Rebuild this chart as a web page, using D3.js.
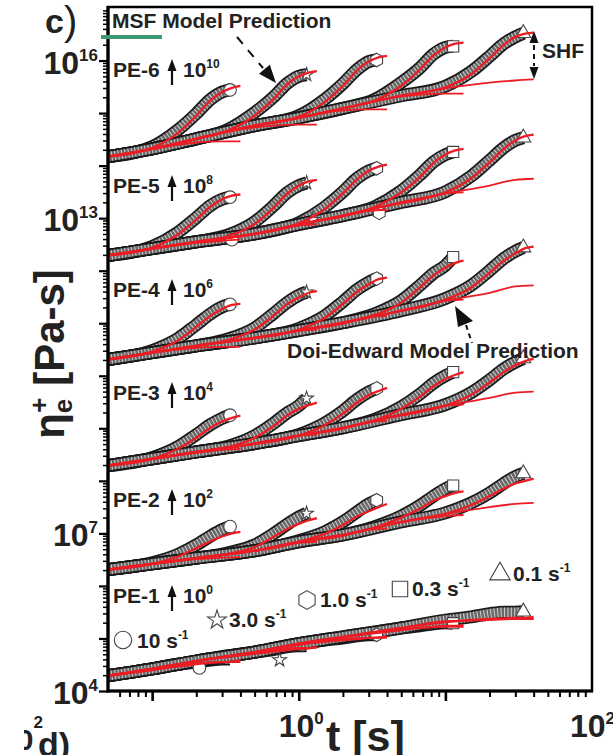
<!DOCTYPE html>
<html>
<head>
<meta charset="utf-8">
<script src="https://cdn.jsdelivr.net/npm/d3@7"></script>
<style>
  html, body { margin: 0; padding: 0; background: #fff; }
  svg { display: block; font-family: "Liberation Sans", Arial, sans-serif; }
</style>
</head>
<body>
<svg id="chart" width="613" height="755"></svg>
<script>
// ---------------------------------------------------------------
// Transient elongational viscosity, six PE melts (shifted vertically)
// Values are log10(eta / Pa s) before the vertical shift.
// ---------------------------------------------------------------
const groupNames = ["PE-1", "PE-2", "PE-3", "PE-4", "PE-5", "PE-6"];
const shiftExp = [0, 2, 4, 6, 8, 10];

const rateLabels = ["10", "3.0", "1.0", "0.3", "0.1"];
const rateSymbols = ["circle", "star", "hexagon", "square", "triangle"];

// linear viscoelastic start-up envelope, sampled at these times [s]
const lveTimes = [0.05, 0.1, 0.2, 0.5, 1, 2, 5, 10, 20, 40];

// times [s] of the points on the strain-hardening branches, per rate
const expTimes = [
  [0.1, 0.15, 0.2, 0.25, 0.3, 0.34],
  [0.33, 0.5, 0.67, 0.83, 1.0, 1.13],
  [1, 1.5, 2, 2.5, 3, 3.4],
  [3.3, 5, 6.7, 8.3, 10, 11.3],
  [10, 15, 20, 25, 30, 34]
];
const msfTimes = [
  [0.1, 0.15, 0.2, 0.25, 0.3, 0.35, 0.4],
  [0.33, 0.5, 0.67, 0.83, 1.0, 1.17, 1.33],
  [1, 1.5, 2, 2.5, 3, 3.5, 4],
  [3.3, 5, 6.7, 8.3, 10, 11.7, 13.3],
  [10, 15, 20, 25, 30, 35, 40]
];
const deTimes = [
  [0.1, 0.2, 0.3, 0.4],
  [0.33, 0.67, 1.0, 1.33],
  [1, 2, 3, 4],
  [3.3, 6.7, 10, 13.3],
  [10, 20, 30, 40]
];

// ---- PE-1 ----
const pe1Lve = [4.29, 4.42, 4.57, 4.74, 4.90, 5.03, 5.20, 5.33, 5.43, 5.52];
const pe1Exp = [
  [4.42, 4.51, 4.55, 4.59, 4.61, 4.61],
  [4.67, 4.74, 4.79, 4.84, 4.86, 4.86],
  [4.90, 4.97, 5.01, 5.05, 5.07, 5.07],
  [5.12, 5.20, 5.24, 5.28, 5.30, 5.29],
  [5.35, 5.41, 5.47, 5.50, 5.50, 5.51]
];
const pe1Msf = [
  [4.40, 4.47, 4.51, 4.54, 4.55, 4.56, 4.59],
  [4.65, 4.71, 4.75, 4.78, 4.80, 4.81, 4.84],
  [4.88, 4.94, 4.97, 4.99, 5.01, 5.02, 5.04],
  [5.10, 5.16, 5.20, 5.22, 5.24, 5.24, 5.26],
  [5.31, 5.35, 5.37, 5.38, 5.39, 5.39, 5.41]
];
const pe1De = [
  [4.42, 4.53, 4.55, 4.55],
  [4.67, 4.78, 4.82, 4.82],
  [4.90, 4.99, 5.01, 5.01],
  [5.12, 5.20, 5.22, 5.22],
  [5.33, 5.35, 5.37, 5.37]
];

// ---- PE-2 ----
const pe2Lve = [4.31, 4.42, 4.53, 4.67, 4.84, 4.97, 5.22, 5.37, 5.52, 5.66];
const pe2Exp = [
  [4.44, 4.60, 4.78, 4.95, 5.07, 5.13],
  [4.63, 4.78, 4.99, 5.17, 5.31, 5.38],
  [4.86, 5.03, 5.22, 5.41, 5.56, 5.63],
  [5.13, 5.33, 5.53, 5.71, 5.85, 5.91],
  [5.39, 5.58, 5.77, 5.95, 6.08, 6.14]
];
const pe2Msf = [
  [4.42, 4.56, 4.72, 4.85, 4.94, 5.00, 5.03],
  [4.61, 4.74, 4.93, 5.08, 5.18, 5.25, 5.29],
  [4.84, 4.99, 5.16, 5.32, 5.42, 5.50, 5.56],
  [5.11, 5.30, 5.47, 5.62, 5.71, 5.77, 5.80],
  [5.37, 5.54, 5.71, 5.85, 5.95, 6.00, 6.04]
];
const pe2De = [
  [4.42, 4.51, 4.54, 4.55],
  [4.61, 4.72, 4.82, 4.84],
  [4.84, 4.95, 5.07, 5.09],
  [5.11, 5.27, 5.33, 5.35],
  [5.37, 5.50, 5.56, 5.58]
];

// ---- PE-3 ----
const pe3Lve = [4.29, 4.42, 4.55, 4.71, 4.86, 5.01, 5.26, 5.43, 5.60, 5.75];
const pe3Exp = [
  [4.44, 4.65, 4.88, 5.07, 5.19, 5.25],
  [4.66, 4.86, 5.09, 5.29, 5.43, 5.57],
  [4.88, 5.10, 5.33, 5.55, 5.69, 5.76],
  [5.17, 5.41, 5.65, 5.86, 6.00, 6.07],
  [5.45, 5.68, 5.92, 6.13, 6.26, 6.33]
];
const pe3Msf = [
  [4.42, 4.61, 4.82, 5.01, 5.13, 5.20, 5.24],
  [4.64, 4.82, 5.04, 5.24, 5.37, 5.44, 5.49],
  [4.86, 5.06, 5.28, 5.49, 5.63, 5.71, 5.77],
  [5.15, 5.37, 5.60, 5.80, 5.94, 6.02, 6.07],
  [5.43, 5.64, 5.87, 6.07, 6.20, 6.28, 6.32]
];
const pe3De = [
  [4.42, 4.53, 4.59, 4.61],
  [4.64, 4.75, 4.86, 4.88],
  [4.86, 4.99, 5.12, 5.14],
  [5.15, 5.31, 5.43, 5.45],
  [5.43, 5.58, 5.68, 5.70]
];

// ---- PE-4 ----
const pe4Lve = [4.31, 4.44, 4.57, 4.72, 4.86, 5.01, 5.24, 5.43, 5.60, 5.77];
const pe4Exp = [
  [4.48, 4.71, 4.97, 5.18, 5.31, 5.36],
  [4.70, 4.91, 5.18, 5.39, 5.53, 5.59],
  [4.90, 5.14, 5.41, 5.64, 5.78, 5.85],
  [5.18, 5.43, 5.72, 5.95, 6.10, 6.26],
  [5.47, 5.72, 6.00, 6.23, 6.37, 6.44]
];
const pe4Msf = [
  [4.46, 4.67, 4.93, 5.14, 5.27, 5.35, 5.37],
  [4.68, 4.88, 5.14, 5.36, 5.49, 5.58, 5.61],
  [4.88, 5.10, 5.37, 5.60, 5.74, 5.84, 5.87],
  [5.16, 5.39, 5.68, 5.91, 6.06, 6.15, 6.19],
  [5.45, 5.68, 5.96, 6.19, 6.33, 6.43, 6.46]
];
const pe4De = [
  [4.44, 4.53, 4.55, 4.55],
  [4.66, 4.76, 4.86, 4.88],
  [4.86, 4.99, 5.12, 5.14],
  [5.14, 5.30, 5.43, 5.45],
  [5.43, 5.58, 5.70, 5.72]
];

// ---- PE-5 ----
const pe5Lve = [4.29, 4.42, 4.55, 4.70, 4.88, 5.05, 5.30, 5.47, 5.64, 5.81];
const pe5Exp = [
  [4.46, 4.73, 5.01, 5.24, 5.36, 5.40],
  [4.68, 4.93, 5.23, 5.48, 5.62, 5.67],
  [4.91, 5.21, 5.50, 5.76, 5.90, 5.95],
  [5.22, 5.52, 5.82, 6.07, 6.21, 6.26],
  [5.50, 5.80, 6.10, 6.34, 6.48, 6.53]
];
const pe5Msf = [
  [4.44, 4.69, 4.97, 5.22, 5.36, 5.43, 5.45],
  [4.66, 4.89, 5.19, 5.46, 5.62, 5.70, 5.73],
  [4.90, 5.17, 5.47, 5.74, 5.90, 5.98, 6.02],
  [5.21, 5.49, 5.78, 6.05, 6.21, 6.29, 6.32],
  [5.49, 5.76, 6.06, 6.32, 6.48, 6.56, 6.59]
];
const pe5De = [
  [4.42, 4.53, 4.57, 4.59],
  [4.64, 4.76, 4.86, 4.88],
  [4.88, 5.03, 5.14, 5.16],
  [5.19, 5.35, 5.47, 5.49],
  [5.47, 5.62, 5.73, 5.75]
];

// ---- PE-6 ----
const pe6Lve = [4.17, 4.32, 4.51, 4.76, 4.91, 5.09, 5.33, 5.47, 5.60, 5.71];
const pe6Exp = [
  [4.36, 4.68, 4.99, 5.26, 5.40, 5.44],
  [4.69, 5.01, 5.30, 5.56, 5.70, 5.73],
  [4.95, 5.26, 5.56, 5.83, 5.98, 6.01],
  [5.26, 5.58, 5.86, 6.12, 6.25, 6.27],
  [5.51, 5.79, 6.08, 6.32, 6.45, 6.52]
];
const pe6Msf = [
  [4.34, 4.62, 4.95, 5.24, 5.40, 5.48, 5.52],
  [4.67, 4.95, 5.26, 5.54, 5.70, 5.77, 5.80],
  [4.93, 5.21, 5.52, 5.81, 5.98, 6.06, 6.09],
  [5.24, 5.52, 5.83, 6.10, 6.25, 6.32, 6.34],
  [5.49, 5.74, 6.04, 6.30, 6.45, 6.51, 6.53]
];
const pe6De = [
  [4.32, 4.44, 4.46, 4.46],
  [4.65, 4.76, 4.78, 4.78],
  [4.91, 5.05, 5.07, 5.07],
  [5.23, 5.35, 5.37, 5.37],
  [5.47, 5.58, 5.62, 5.64]
];

// separate last points of runs: [group index, rate index, t (s), log10 eta]
const isolatedPts = [
  [0, 0, 0.21, 4.44],
  [0, 1, 0.74, 4.59],
  [4, 0, 0.35, 4.59],
  [4, 1, 1.24, 4.97],
  [4, 2, 3.54, 5.10]
];

const groups = [
  { lve: pe1Lve, exp: pe1Exp, msf: pe1Msf, de: pe1De },
  { lve: pe2Lve, exp: pe2Exp, msf: pe2Msf, de: pe2De },
  { lve: pe3Lve, exp: pe3Exp, msf: pe3Msf, de: pe3De },
  { lve: pe4Lve, exp: pe4Exp, msf: pe4Msf, de: pe4De },
  { lve: pe5Lve, exp: pe5Exp, msf: pe5Msf, de: pe5De },
  { lve: pe6Lve, exp: pe6Exp, msf: pe6Msf, de: pe6De }
];

// ---------------------------------------------------------------
// Layout
// ---------------------------------------------------------------
const svg = d3.select("#chart");
const plot = { left: 108, right: 592, top: 8, bottom: 691 };
const x = d3.scaleLog().domain([0.05, 100]).range([plot.left, plot.right]);
const y = d3.scaleLog().domain([1e4, 1e17]).range([plot.bottom, plot.top]);

const RED = "#ec1c24";
const INK = "#1a1a1a";
const TEXT = "#222";

const lineFor = shift => d3.line()
  .x(d => x(d[0]))
  .y(d => y(Math.pow(10, d[1] + shift)))
  .curve(d3.curveMonotoneX);

// envelope points that come before a branch, followed by the branch itself
function curvePts(lve, times, vals) {
  const pts = [];
  lveTimes.forEach((t, i) => { if (t < times[0] - 1e-9) pts.push([t, lve[i]]); });
  times.forEach((t, i) => pts.push([t, vals[i]]));
  return pts;
}

const hexagon = {
  draw(ctx, size) {
    const r = Math.sqrt(size / (1.5 * Math.sqrt(3)));
    for (let i = 0; i < 6; i++) {
      const a = Math.PI / 3 * i - Math.PI / 2;
      if (i === 0) ctx.moveTo(r * Math.cos(a), r * Math.sin(a));
      else ctx.lineTo(r * Math.cos(a), r * Math.sin(a));
    }
    ctx.closePath();
  }
};
const symbolTypes = {
  circle: d3.symbolCircle, star: d3.symbolStar, hexagon: hexagon,
  square: d3.symbolSquare, triangle: d3.symbolTriangle
};
const markerSize = { circle: 125, star: 58, hexagon: 120, square: 125, triangle: 95 };

function drawMarker(g, kind, cx, cy, scale) {
  g.append("path")
    .attr("d", d3.symbol().type(symbolTypes[kind]).size(markerSize[kind] * (scale || 1))())
    .attr("transform", `translate(${cx},${cy})`)
    .attr("fill", "#fff")
    .attr("stroke", "#444")
    .attr("stroke-width", 1.1);
}

// ---------------------------------------------------------------
// Curves
// ---------------------------------------------------------------
const curvesLayer = svg.append("g");

groups.forEach((grp, gi) => {
  const shift = shiftExp[gi];
  const line = lineFor(shift);
  const g = curvesLayer.append("g");

  // experimental data: dense open symbols rendered as a hatched grey trail
  grp.exp.forEach((vals, ri) => {
    const d = line(curvePts(grp.lve, expTimes[ri], vals));
    g.append("path").attr("d", d).attr("fill", "none")
      .attr("stroke", INK).attr("stroke-width", 13)
      .attr("stroke-linejoin", "round").attr("stroke-linecap", "butt");
    g.append("path").attr("d", d).attr("fill", "none")
      .attr("stroke", "#686868").attr("stroke-width", 9.5);
    g.append("path").attr("d", d).attr("fill", "none")
      .attr("stroke", "#cfcfcf").attr("stroke-width", 9.5)
      .attr("stroke-dasharray", "1 2.4");
  });

  // end-of-run symbols
  grp.exp.forEach((vals, ri) => {
    const times = expTimes[ri];
    const lastT = times[times.length - 1];
    const early = isolatedPts.some(p => p[0] === gi && p[1] === ri && p[2] < lastT);
    if (!early) {
      drawMarker(g, rateSymbols[ri], x(lastT), y(Math.pow(10, vals[vals.length - 1] + shift)));
    }
  });
  isolatedPts.filter(p => p[0] === gi).forEach(p => {
    drawMarker(g, rateSymbols[p[1]], x(p[2]), y(Math.pow(10, p[3] + shift)));
  });

  // Doi-Edwards predictions
  grp.de.forEach((vals, ri) => {
    g.append("path").attr("d", line(curvePts(grp.lve, deTimes[ri], vals)))
      .attr("fill", "none").attr("stroke", RED).attr("stroke-width", 1.8);
  });
  // MSF predictions
  grp.msf.forEach((vals, ri) => {
    g.append("path").attr("d", line(curvePts(grp.lve, msfTimes[ri], vals)))
      .attr("fill", "none").attr("stroke", RED).attr("stroke-width", 2.3);
  });
});

// ---------------------------------------------------------------
// Axes and frame
// ---------------------------------------------------------------
const yMajor = d3.range(4, 17).map(e => Math.pow(10, e));
const yMinor = [];
for (let e = 4; e < 17; e++) for (let k = 2; k <= 9; k++) yMinor.push(k * Math.pow(10, e));
const xMajor = [0.1, 1, 10];
const xMinor = [];
for (let e = -2; e < 2; e++) for (let k = 2; k <= 9; k++) {
  const v = k * Math.pow(10, e);
  if (v > 0.055 && v < 100) xMinor.push(v);
}

function tickAxis(axis, transform, width) {
  const a = svg.append("g").attr("transform", transform).call(axis);
  a.select(".domain").remove();
  a.selectAll("line").attr("stroke", "#000").attr("stroke-width", width);
  a.selectAll("text").remove();
}
tickAxis(d3.axisLeft(y).tickValues(yMinor).tickSize(5), `translate(${plot.left},0)`, 1.5);
tickAxis(d3.axisLeft(y).tickValues(yMajor).tickSize(9), `translate(${plot.left},0)`, 2.2);
tickAxis(d3.axisBottom(x).tickValues(xMinor).tickSize(6), `translate(0,${plot.bottom})`, 2);
tickAxis(d3.axisBottom(x).tickValues(xMajor).tickSize(10), `translate(0,${plot.bottom})`, 2.6);

svg.append("rect")
  .attr("x", plot.left).attr("y", 7)
  .attr("width", plot.right - plot.left).attr("height", plot.bottom - 7)
  .attr("fill", "none").attr("stroke", "#000").attr("stroke-width", 2.5);
svg.append("line").attr("x1", plot.left).attr("x2", plot.left)
  .attr("y1", 6).attr("y2", plot.bottom + 1.5).attr("stroke", "#000").attr("stroke-width", 3.2);
svg.append("line").attr("x1", plot.left - 1.5).attr("x2", plot.right + 1)
  .attr("y1", plot.bottom).attr("y2", plot.bottom).attr("stroke", "#000").attr("stroke-width", 3.2);

// power-of-ten label: base "10" plus raised exponent
function powLabel(parent, px, py, exp, anchor, big, small, rise) {
  const t = parent.append("text").attr("x", px).attr("y", py)
    .attr("text-anchor", anchor).attr("font-weight", "bold")
    .attr("font-size", big).attr("fill", TEXT);
  t.append("tspan").text("10");
  t.append("tspan").attr("dy", -rise).attr("font-size", small).text(exp);
  return t;
}

// y tick labels
[16, 13, 7, 4].forEach(e => powLabel(svg, 98, y(Math.pow(10, e)) + 13, String(e), "end", 32, 17, 13));
// x tick labels
powLabel(svg, x(1) - 20, 737, "0", "start", 32, 17, 13);
powLabel(svg, x(100) - 22, 737, "2", "start", 32, 17, 13);

// axis titles
svg.append("text").attr("x", 326).attr("y", 751)
  .attr("font-size", 43).attr("font-weight", "bold").attr("fill", TEXT).text("t [s]");

const yt = svg.append("text")
  .attr("transform", "translate(64,354) rotate(-90)")
  .attr("text-anchor", "middle").attr("font-weight", "bold")
  .attr("font-size", 42).attr("fill", TEXT);
yt.append("tspan").text("\u03b7");
yt.append("tspan").attr("font-size", 26).attr("dy", 8).text("e");
yt.append("tspan").attr("font-size", 26).attr("dx", -14).attr("dy", -24).text("+");
yt.append("tspan").attr("dy", 16).text(" [Pa-s]");

// panel letters; the neighbouring panel's corner shows at the bottom-left
const cl = svg.append("text").attr("x", 45).attr("y", 33).attr("fill", TEXT);
cl.append("tspan").attr("font-size", 34).attr("font-weight", "bold").text("c");
cl.append("tspan").attr("font-size", 40).attr("dy", 2).text(")");

svg.append("clipPath").attr("id", "cornerClip")
  .append("rect").attr("x", 24).attr("y", 690).attr("width", 60).attr("height", 70);
const corner = svg.append("g").attr("clip-path", "url(#cornerClip)");
powLabel(corner, 0, 750, "2", "start", 30, 17, 22);
svg.append("text").attr("x", 38).attr("y", 756)
  .attr("font-size", 34).attr("font-weight", "bold").attr("fill", TEXT).text("d)");

// ---------------------------------------------------------------
// Group labels with shift factors
// ---------------------------------------------------------------
const peLabelBaseline = [603, 507, 400, 297, 193, 77];
groupNames.forEach((name, gi) => {
  const by = peLabelBaseline[gi];
  svg.append("text").attr("x", 113).attr("y", by)
    .attr("font-size", 21).attr("font-weight", "bold").attr("fill", TEXT).text(name);
  svg.append("line").attr("x1", 172).attr("x2", 172).attr("y1", by + 8).attr("y2", by - 8)
    .attr("stroke", "#111").attr("stroke-width", 2.2);
  svg.append("path").attr("d", `M167.5,${by - 6}L176.5,${by - 6}L172,${by - 18}Z`).attr("fill", "#111");
  powLabel(svg, 183, by, String(shiftExp[gi]), "start", 21, 12, 9);
});

// ---------------------------------------------------------------
// Legend
// ---------------------------------------------------------------
const legendPos = [
  { mx: 123, my: 640, tx: 137, ty: 648 },
  { mx: 217, my: 620, tx: 229, ty: 627 },
  { mx: 307, my: 600, tx: 320, ty: 607 },
  { mx: 400, my: 589, tx: 412, ty: 596 },
  { mx: 500, my: 574, tx: 513, ty: 581 }
];
rateLabels.forEach((lab, i) => {
  const p = legendPos[i];
  drawMarker(svg, rateSymbols[i], p.mx, p.my, 1.9);
  const t = svg.append("text").attr("x", p.tx).attr("y", p.ty)
    .attr("font-size", 21).attr("font-weight", "bold").attr("fill", TEXT);
  t.append("tspan").text(lab + " s");
  t.append("tspan").attr("font-size", 12).attr("dy", -9).text("-1");
});

// ---------------------------------------------------------------
// Annotations
// ---------------------------------------------------------------
svg.append("rect").attr("x", 101).attr("y", 35).attr("width", 61).attr("height", 4).attr("fill", "#3d9a72");
svg.append("text").attr("x", 112).attr("y", 28)
  .attr("font-size", 21).attr("font-weight", "bold").attr("fill", TEXT).text("MSF Model Prediction");
svg.append("line").attr("x1", 237).attr("y1", 37).attr("x2", 263).attr("y2", 68)
  .attr("stroke", "#111").attr("stroke-width", 2).attr("stroke-dasharray", "9 8");
svg.append("path").attr("d", "M276,83L259,73.7L269.8,64.7Z").attr("fill", "#111");

svg.append("text").attr("x", 287).attr("y", 358)
  .attr("font-size", 21).attr("font-weight", "bold").attr("fill", TEXT).text("Doi-Edward Model Prediction");
svg.append("line").attr("x1", 466).attr("y1", 325).attr("x2", 472).attr("y2", 343)
  .attr("stroke", "#111").attr("stroke-width", 2).attr("stroke-dasharray", "5 4");
svg.append("path").attr("d", "M455,306L458,327L473,321Z").attr("fill", "#111");

svg.append("text").attr("x", 542).attr("y", 58)
  .attr("font-size", 21).attr("font-weight", "bold").attr("fill", TEXT).text("SHF");
svg.append("path").attr("d", "M534,31L538.5,43L529.5,43Z").attr("fill", "#111");
svg.append("line").attr("x1", 534).attr("x2", 534).attr("y1", 45).attr("y2", 66)
  .attr("stroke", "#111").attr("stroke-width", 2).attr("stroke-dasharray", "5 4");
svg.append("path").attr("d", "M534,79L538.5,67L529.5,67Z").attr("fill", "#111");
</script>
</body>
</html>
